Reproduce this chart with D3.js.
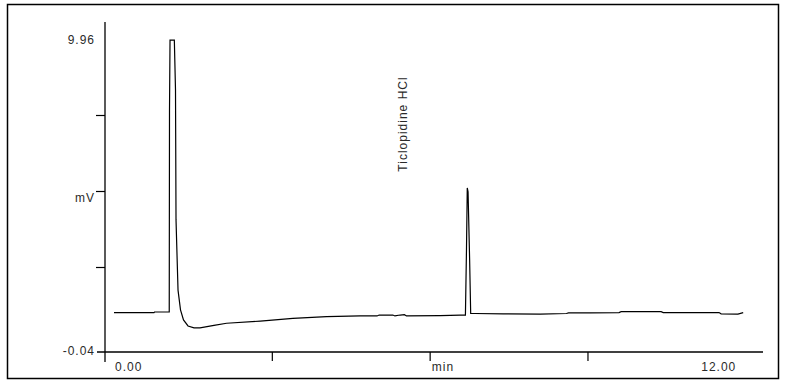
<!DOCTYPE html>
<html>
<head>
<meta charset="utf-8">
<title>Chromatogram - Ticlopidine HCl</title>
<script src="https://d3js.org/d3.v7.min.js"></script>
<style>
html, body { margin: 0; padding: 0; background: #fff; }
svg { display: block; }
.lbl { font-family: "Liberation Sans", Arial, sans-serif; font-size: 12px; letter-spacing: 1px; fill: #2a2a2a; }
</style>
</head>
<body>
<script>
// retention time (min) and detector signal (mV)
let times = [0.00, 0.40, 0.76, 0.77, 1.03, 1.05, 1.055, 1.065, 1.147, 1.169, 1.179, 1.198, 1.217, 1.264, 1.321, 1.407,
    1.521, 1.635, 1.90, 2.14, 2.78, 3.40, 4.04, 4.68, 5.00, 5.04, 5.30, 5.34, 5.44, 5.52, 5.56, 6.20, 6.58, 6.68,
    6.70, 6.715, 6.73, 6.76, 6.78, 6.86, 7.40, 8.10, 8.60, 8.64, 9.05, 9.60, 9.64, 10.00, 10.40, 10.44, 11.14, 11.50,
    11.54, 11.86, 11.96];
let signal = [1.00, 1.00, 1.00, 1.02, 1.02, 1.02, 7.66, 9.96, 9.96, 8.32, 4.05, 2.89, 1.74, 1.09, 0.76, 0.56,
    0.50, 0.50, 0.58, 0.65, 0.72, 0.81, 0.87, 0.89, 0.89, 0.92, 0.92, 0.89, 0.92, 0.93, 0.89, 0.90, 0.92, 0.92,
    3.06, 5.10, 4.97, 2.73, 0.97, 0.97, 0.96, 0.95, 0.97, 0.99, 0.99, 1.00, 1.03, 1.03, 1.03, 1.00, 1.00, 1.00,
    0.96, 0.95, 1.00];

let peakName = 'Ticlopidine HCl';
let peakLabelTime = 5.50;
let xTicks = [3, 6, 9];
let yTicks = [2.5, 5, 7.5];
let xEndLabels = ['0.00', '12.00'];
let yEndLabels = ['9.96', '-0.04'];
let xTitle = 'min';
let yTitle = 'mV';

let width = 787, height = 385;
let svg = d3.select('body').append('svg').attr('width', width).attr('height', height);

let x = d3.scaleLinear().domain([0, 12]).range([114, 745.3]);
let y = d3.scaleLinear().domain([0, 2.5]).range([343, 267]);
let axisX = 105, axisY = 352;

// outer frame
svg.append('rect').attr('x', 7.5).attr('y', 4.5).attr('width', 771).attr('height', 374)
    .attr('fill', 'none').attr('stroke', '#000').attr('stroke-width', 1.5);

// y axis
let gy = svg.append('g').attr('transform', 'translate(' + axisX + ',0)')
    .call(d3.axisLeft(y).tickValues(yTicks).tickFormat('').tickSize(9).tickSizeOuter(0));
gy.select('.domain').remove();
gy.selectAll('line').attr('stroke', '#000').attr('stroke-width', 1.2);
svg.append('line').attr('x1', axisX).attr('x2', axisX).attr('y1', 22).attr('y2', 362)
    .attr('stroke', '#000').attr('stroke-width', 1.3);

// x axis
let gx = svg.append('g').attr('transform', 'translate(0,' + axisY + ')')
    .call(d3.axisBottom(x).tickValues(xTicks).tickFormat('').tickSize(9).tickSizeOuter(0));
gx.select('.domain').remove();
gx.selectAll('line').attr('stroke', '#000').attr('stroke-width', 1.2);
svg.append('line').attr('x1', 97).attr('x2', 763).attr('y1', axisY).attr('y2', axisY)
    .attr('stroke', '#000').attr('stroke-width', 1.3);

// axis labels
svg.append('text').attr('class', 'lbl').attr('x', 95).attr('y', y(9.96)).attr('dy', '0.35em')
    .attr('text-anchor', 'end').text(yEndLabels[0]);
svg.append('text').attr('class', 'lbl').attr('x', 95).attr('y', axisY - 1).attr('dy', '0.35em')
    .attr('text-anchor', 'end').text(yEndLabels[1]);
svg.append('text').attr('class', 'lbl').attr('x', 95).attr('y', y(5) + 7).attr('dy', '0.35em')
    .attr('text-anchor', 'end').text(yTitle);
svg.append('text').attr('class', 'lbl').attr('x', x(0) + 1).attr('y', 367).attr('dy', '0.35em')
    .attr('text-anchor', 'start').text(xEndLabels[0]);
svg.append('text').attr('class', 'lbl').attr('x', x(12) - 9).attr('y', 367).attr('dy', '0.35em')
    .attr('text-anchor', 'end').text(xEndLabels[1]);
svg.append('text').attr('class', 'lbl').attr('x', 443).attr('y', 367).attr('dy', '0.35em')
    .attr('text-anchor', 'middle').text(xTitle);

// trace
let data = times.map((t, i) => ({t: t, v: signal[i]}));
let line = d3.line().x(d => x(d.t)).y(d => y(d.v));
svg.append('path').datum(data).attr('d', line)
    .attr('fill', 'none').attr('stroke', '#000').attr('stroke-width', 1.2);

// peak label, rotated, to the left of and above the peak
svg.append('text').attr('class', 'lbl')
    .attr('transform', 'translate(' + (x(peakLabelTime) + 4) + ',' + 124 + ') rotate(-90)')
    .attr('text-anchor', 'middle').text(peakName);
</script>
</body>
</html>
